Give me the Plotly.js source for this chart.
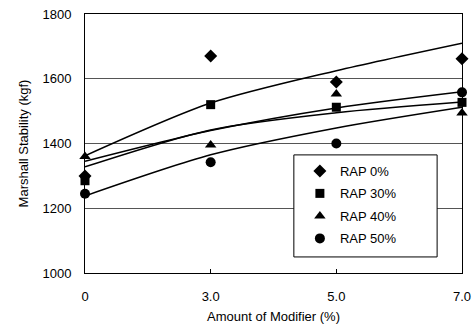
<!DOCTYPE html>
<html>
<head>
<meta charset="utf-8">
<script src="https://cdn.plot.ly/plotly-3.0.1.min.js"></script>
<style>html,body{margin:0;padding:0;background:#fff;}#chart{width:473px;height:325px;}</style>
</head>
<body>
<div id="chart"></div>
<script>
// category positions (equally spaced on the axis) and tick labels
var xPos = [0, 1, 2, 3];
var xLabels = ["0", "3.0", "5.0", "7.0"];
var seriesNames = ["RAP 0%", "RAP 30%", "RAP 40%", "RAP 50%"];
var symbols = ["diamond", "square", "triangle-up", "circle"];

// measured points (kgf)
var rap0 = [1300, 1670, 1590, 1662];
var rap30 = [1285, 1520, 1512, 1527];
var rap40 = [1360, 1395, 1553, 1494];
var rap50 = [1245, 1342, 1400, 1558];

// fitted curves (kgf)
var fit0 = [1362, 1525, 1625, 1710];
var fit30 = [1345, 1440, 1510, 1560];
var fit40 = [1328, 1442, 1495, 1528];
var fit50 = [1238, 1365, 1448, 1512];

var pts = [rap0, rap30, rap40, rap50];
var fits = [fit0, fit30, fit40, fit50];
var traces = [];
fits.forEach(function (f) {
  traces.push({x: xPos, y: f, mode: "lines", type: "scatter", showlegend: false,
    line: {color: "#000", width: 1.5, shape: "spline", smoothing: 0.8}, hoverinfo: "skip"});
});
pts.forEach(function (p, i) {
  traces.push({x: xPos, y: p, mode: "markers", type: "scatter", name: seriesNames[i],
    legendgroup: "g" + i, cliponaxis: false,
    marker: {symbol: symbols[i], size: i === 1 ? 9 : 10, color: "#000"}});
});

var layout = {
  width: 473, height: 325,
  margin: {l: 85, r: 11, t: 14, b: 52},
  paper_bgcolor: "#fff", plot_bgcolor: "#fff",
  font: {family: "Liberation Sans, Arial, sans-serif", size: 13, color: "#000"},
  showlegend: true,
  legend: {x: 0.57, y: 0.452, xanchor: "left", yanchor: "top",
    borderwidth: 0, bgcolor: "rgba(0,0,0,0)",
    font: {size: 13, color: "#000"}, tracegroupgap: 2.6, itemwidth: 30},
  shapes: [{type: "rect", xref: "paper", yref: "paper", x0: 0.554, x1: 0.934,
    y0: 0.062, y1: 0.456, layer: "above", fillcolor: "#fff",
    line: {color: "#000", width: 1}}],
  xaxis: {range: [0, 3], tickvals: xPos, ticktext: xLabels, showgrid: false,
    zeroline: false, showline: true, linecolor: "#000", linewidth: 1, mirror: true,
    ticks: "inside", ticklen: 4, tickcolor: "#000", ticklabelstandoff: 11,
    title: {text: "Amount of Modifier (%)", font: {size: 13}, standoff: 9}},
  yaxis: {range: [1000, 1800], tickvals: [1000, 1200, 1400, 1600, 1800],
    showgrid: true, gridcolor: "#555", gridwidth: 1, zeroline: false,
    showline: true, linecolor: "#000", linewidth: 1, mirror: true,
    ticks: "", ticklabelstandoff: 10,
    title: {text: "Marshall Stability (kgf)", font: {size: 13}, standoff: 10}}
};
Plotly.newPlot("chart", traces, layout, {displayModeBar: false, staticPlot: true});
</script>
</body>
</html>
